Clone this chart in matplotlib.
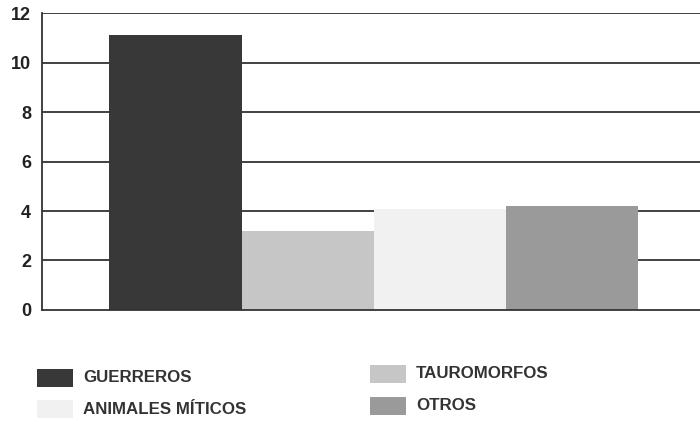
import matplotlib
matplotlib.use("Agg")
import matplotlib.pyplot as plt
from matplotlib.patches import Rectangle

categories = ["GUERREROS", "TAUROMORFOS", "ANIMALES MÍTICOS", "OTROS"]
values = [11.1, 3.2, 4.1, 4.2]
colors = ["#383838", "#c6c6c6", "#f1f1f1", "#9a9a9a"]
yticks = [0, 2, 4, 6, 8, 10, 12]

plt.rcParams['font.family'] = ['Liberation Sans', 'DejaVu Sans']

fig = plt.figure(figsize=(7, 4.21), dpi=100)
ax = fig.add_axes([0.06, 0.2637, 0.94, 0.7053])

x = list(range(len(categories)))
ax.bar(x, values, width=1.0, color=colors, zorder=3, linewidth=0)
ax.set_xlim(-1.01, 3.97)
ax.set_ylim(0, 12)
ax.set_yticks(yticks)
ax.set_yticklabels([str(t) for t in yticks], fontsize=13, fontweight='bold', color='#222222')
ax.set_xticks([])
ax.tick_params(axis='y', length=0, pad=8)
for t in yticks[1:]:
    ax.axhline(t, color='#333333', linewidth=1.3, zorder=1)
for s in ['top', 'right']:
    ax.spines[s].set_visible(False)
for s in ['left', 'bottom']:
    ax.spines[s].set_color('#333333')
    ax.spines[s].set_linewidth(1.3)
    ax.spines[s].set_zorder(4)

# legend (2 columns)
legend_order = [0, 2, 1, 3]
positions = [(37, 378), (37, 409), (370, 374), (370, 406)]
W, H = 700, 421
for idx, (px, py) in zip(legend_order, positions):
    fig.patches.append(Rectangle((px / W, 1 - (py + 9) / H), 36 / W, 18 / H,
                                 transform=fig.transFigure, facecolor=colors[idx],
                                 edgecolor='none'))
    fig.text((px + 46) / W, 1 - py / H, categories[idx], fontsize=12.2,
             fontweight='bold', color='#333333', va='center', ha='left')

fig.savefig("out.png", dpi=100)
